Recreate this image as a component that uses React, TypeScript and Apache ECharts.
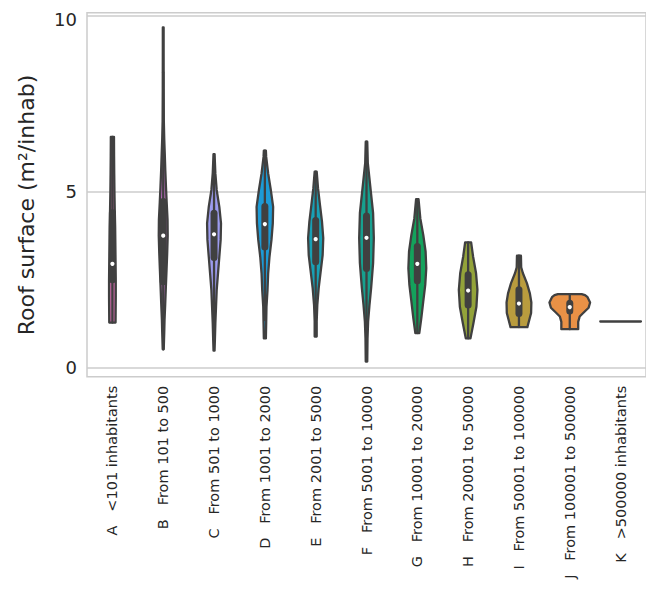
import React, { useEffect, useRef } from "react";
import * as echarts from "echarts";

// Municipality size classes (x axis); non-breaking spaces keep the gap after the letter
const SP = "\u00a0\u00a0\u00a0";
const groups = [
  `A${SP}<101 inhabitants`,
  `B${SP}From 101 to 500`,
  `C${SP}From 501 to 1000`,
  `D${SP}From 1001 to 2000`,
  `E${SP}From 2001 to 5000`,
  `F${SP}From 5001 to 10000`,
  `G${SP}From 10001 to 20000`,
  `H${SP}From 20001 to 50000`,
  `I${SP}From 50001 to 100000`,
  `J${SP}From 100001 to 500000`,
  `K${SP}>500000 inhabitants`,
];

// Violin fill colours, one per class
const colors = [
  "#d06bab", "#c06fc6", "#9d9cef", "#1d9bd6", "#18a0b5", "#17a08f",
  "#14a25c", "#93a33a", "#b99c3e", "#e99146", "#e0708a",
];

// Kernel density outlines: [roof surface, half width as a fraction of the category band]
const shapeA: [number, number][] = [
  [1.28, 0.062], [2.0, 0.066], [2.5, 0.066], [3.0, 0.062], [3.5, 0.058], [4.0, 0.054],
  [4.5, 0.046], [5.0, 0.04], [5.5, 0.036], [6.0, 0.033], [6.56, 0.031],
];
const shapeB: [number, number][] = [
  [0.52, 0.01], [1.0, 0.02], [1.35, 0.026], [1.8, 0.039], [2.3, 0.052], [2.8, 0.066],
  [3.25, 0.078], [3.75, 0.088], [4.2, 0.085], [4.7, 0.068], [5.14, 0.054], [5.6, 0.041],
  [6.09, 0.03], [6.5, 0.02], [7.0, 0.012], [7.94, 0.009], [9.0, 0.008], [9.67, 0.008],
];
const shapeC: [number, number][] = [
  [0.48, 0.01], [0.79, 0.017], [1.26, 0.026], [1.73, 0.039], [2.2, 0.052], [2.68, 0.078],
  [3.15, 0.104], [3.63, 0.13], [4.1, 0.137], [4.57, 0.104], [5.05, 0.052], [5.52, 0.026],
  [6.07, 0.01],
];
const shapeD: [number, number][] = [
  [0.83, 0.02], [1.26, 0.026], [1.73, 0.032], [2.2, 0.052], [2.68, 0.065], [3.15, 0.091],
  [3.63, 0.13], [4.1, 0.156], [4.57, 0.163], [5.05, 0.117], [5.52, 0.065], [5.99, 0.026],
  [6.17, 0.02],
];
const shapeE: [number, number][] = [
  [0.88, 0.02], [1.31, 0.02], [1.78, 0.032], [2.26, 0.059], [2.73, 0.098], [3.2, 0.137],
  [3.68, 0.149], [4.15, 0.124], [4.62, 0.085], [5.1, 0.046], [5.57, 0.02],
];
const shapeF: [number, number][] = [
  [0.17, 0.015], [0.83, 0.02], [1.31, 0.032], [1.78, 0.059], [2.26, 0.091], [2.97, 0.13],
  [3.68, 0.144], [4.39, 0.13], [5.1, 0.078], [5.81, 0.026], [6.42, 0.015],
];
const shapeG: [number, number][] = [
  [0.98, 0.039], [1.4, 0.078], [1.88, 0.117], [2.35, 0.156], [2.82, 0.176], [3.3, 0.163],
  [3.77, 0.117], [4.24, 0.059], [4.79, 0.024],
];
const shapeH: [number, number][] = [
  [0.83, 0.046], [1.26, 0.104], [1.73, 0.163], [2.21, 0.183], [2.68, 0.156], [3.15, 0.098],
  [3.56, 0.059],
];
const shapeI: [number, number][] = [
  [1.15, 0.166], [1.31, 0.195], [1.55, 0.239], [1.85, 0.244], [2.11, 0.215], [2.4, 0.156],
  [2.68, 0.078], [2.85, 0.044], [3.18, 0.039],
];
const shapeJ: [number, number][] = [
  [1.09, 0.166], [1.3, 0.166], [1.45, 0.195], [1.55, 0.264], [1.7, 0.371], [1.85, 0.4],
  [2.0, 0.35], [2.06, 0.3], [2.09, 0.234],
];
const shapeK: [number, number][] = [];

const violinShapes = [shapeA, shapeB, shapeC, shapeD, shapeE, shapeF, shapeG, shapeH, shapeI, shapeJ, shapeK];

// Inner box statistics
const whiskerLow = [1.28, 0.52, 0.88, 1.35, 0.9, 0.25, 0.98, 0.83, 1.15, 1.09, 1.31];
const quartile1 = [2.5, 2.44, 3.13, 3.43, 3.01, 2.82, 2.47, 1.78, 1.54, 1.61, 1.31];
const medians = [2.95, 3.75, 3.79, 4.08, 3.65, 3.69, 2.95, 2.19, 1.82, 1.72, 1.31];
const quartile3 = [4.4, 4.72, 4.39, 4.58, 4.18, 4.31, 3.44, 2.64, 2.21, 1.83, 1.31];
const whiskerHigh = [6.56, 8.4, 6.07, 6.17, 5.57, 6.42, 4.79, 3.56, 3.18, 2.09, 1.31];

// Y axis ticks
const yTicks = [0, 5, 10];

const GRAY = "#404040";
const TEXT = "#262626";
const FONT = "DejaVu Sans";
const SINGLE_HALF_WIDTH = 0.4;
const OUTLINE = 2.3;
const WHISKER = 2.3;
const BOX = 7;

function renderViolin(_params: any, api: any) {
  const idx = api.value(0) as number;
  const band = (api.size([1, 0]) as number[])[0];
  const shape = violinShapes[idx];
  const children: any[] = [];

  if (shape.length > 1) {
    const right = shape.map(([v, hw]) => {
      const p = api.coord([idx, v]);
      return [p[0] + hw * band, p[1]];
    });
    const left = shape
      .slice()
      .reverse()
      .map(([v, hw]) => {
        const p = api.coord([idx, v]);
        return [p[0] - hw * band, p[1]];
      });
    children.push({
      type: "polygon",
      shape: { points: right.concat(left) },
      style: { fill: colors[idx], stroke: GRAY, lineWidth: OUTLINE, lineJoin: "round" },
    });

    const lo = api.coord([idx, whiskerLow[idx]]);
    const hi = api.coord([idx, whiskerHigh[idx]]);
    children.push({
      type: "line",
      shape: { x1: lo[0], y1: lo[1], x2: hi[0], y2: hi[1] },
      style: { stroke: GRAY, lineWidth: WHISKER, lineCap: "round" },
    });

    const b1 = api.coord([idx, quartile1[idx]]);
    const b3 = api.coord([idx, quartile3[idx]]);
    children.push({
      type: "line",
      shape: { x1: b1[0], y1: b1[1], x2: b3[0], y2: b3[1] },
      style: { stroke: GRAY, lineWidth: BOX, lineCap: "round" },
    });

    const m = api.coord([idx, medians[idx]]);
    children.push({
      type: "circle",
      shape: { cx: m[0], cy: m[1], r: 2.1 },
      style: { fill: "#ffffff", stroke: null },
    });
  } else {
    // a class with a single observation is drawn as a flat line
    const c = api.coord([idx, medians[idx]]);
    children.push({
      type: "line",
      shape: { x1: c[0] - SINGLE_HALF_WIDTH * band, y1: c[1], x2: c[0] + SINGLE_HALF_WIDTH * band, y2: c[1] },
      style: { stroke: GRAY, lineWidth: WHISKER, lineCap: "round" },
    });
  }
  return { type: "group", children };
}

export default function App() {
  const ref = useRef<HTMLDivElement>(null);

  useEffect(() => {
    if (!ref.current) return;
    const chart = echarts.init(ref.current, null, { renderer: "svg" });
    chart.setOption({
      animation: false,
      backgroundColor: "#ffffff",
      textStyle: { fontFamily: FONT },
      grid: {
        left: 87,
        top: 12.7,
        width: 563.2,
        height: 364,
        show: true,
        borderColor: "#cccccc",
        borderWidth: 1.5,
        backgroundColor: "transparent",
      },
      xAxis: {
        type: "category",
        data: groups,
        axisLine: { show: false },
        axisTick: { show: false },
        splitLine: { show: false },
        axisLabel: {
          rotate: 90,
          interval: 0,
          margin: 9,
          fontSize: 14.5,
          color: TEXT,
          fontFamily: FONT,
        },
      },
      yAxis: {
        type: "value",
        min: -0.26,
        max: 10.09,
        axisLine: { show: false },
        axisTick: { show: false, customValues: yTicks },
        axisLabel: {
          customValues: yTicks,
          fontSize: 18,
          color: TEXT,
          margin: 10,
          fontFamily: FONT,
          formatter: (v: number) => (v === 10 ? "{top|10}" : String(v)),
          rich: {
            top: { fontSize: 18, color: TEXT, fontFamily: FONT, padding: [8, 0, 0, 0] },
          },
        },
        splitLine: { show: true, lineStyle: { color: "#cccccc", width: 1.5 } },
      },
      graphic: [
        {
          type: "text",
          x: 26,
          y: 205,
          rotation: Math.PI / 2,
          style: {
            text: "Roof surface (m²/inhab)",
            fontSize: 22,
            fontFamily: FONT,
            fill: TEXT,
            align: "center",
            verticalAlign: "middle",
          },
        },
      ],
      series: [
        {
          type: "custom",
          renderItem: renderViolin,
          data: groups.map((_, i) => [i]),
          encode: { x: 0 },
          clip: false,
        },
      ],
    });
    return () => chart.dispose();
  }, []);

  return (
    <div
      ref={ref}
      style={{ position: "fixed", left: 0, top: 0, width: 646, height: 593 }}
    />
  );
}
